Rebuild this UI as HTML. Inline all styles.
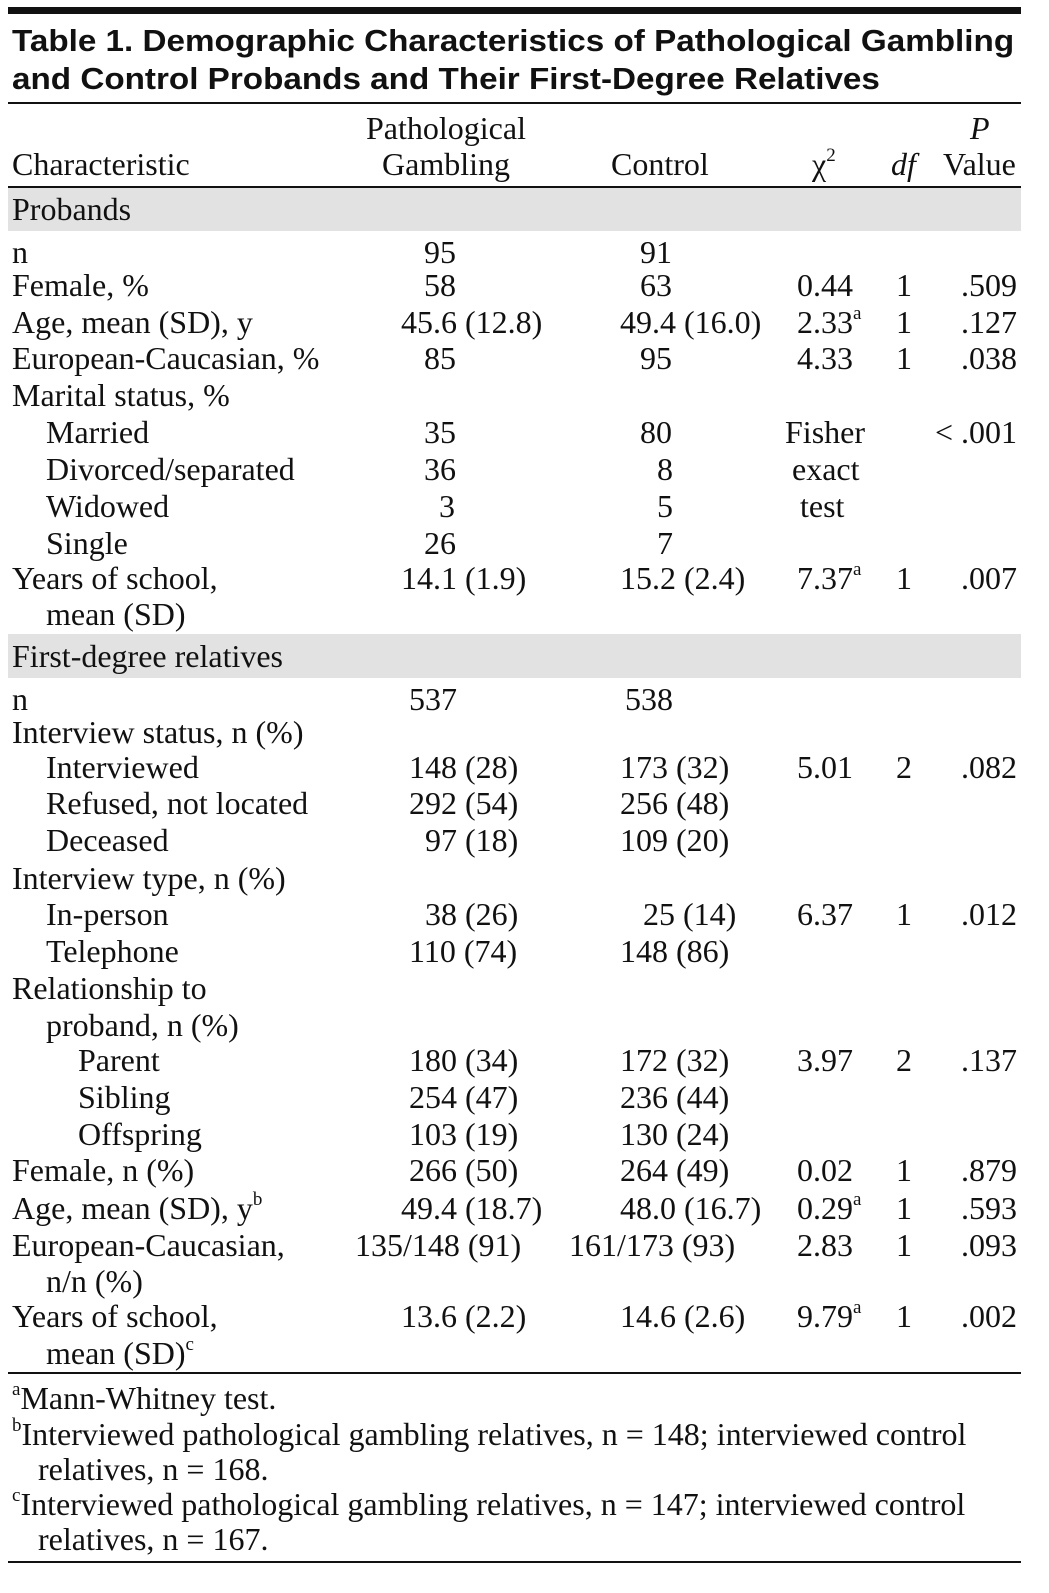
<!DOCTYPE html>
<html><head><meta charset="utf-8">
<style>
body{margin:0;background:#fff;}
#page{position:relative;width:1049px;height:1593px;overflow:hidden;background:#fff;font-family:"Liberation Serif",serif;font-size:32px;color:#111;}
.t{position:absolute;white-space:nowrap;line-height:36px;}
.r{position:absolute;background:#111;left:8px;width:1013px;}
.band{position:absolute;left:8px;width:1013px;background:#e2e2e2;}
.title{position:absolute;left:12px;font-family:"Liberation Sans",sans-serif;font-weight:bold;font-size:31px;white-space:nowrap;transform:scaleX(1.072);transform-origin:left top;}
sup{font-size:19px;line-height:0;vertical-align:14px;}
</style></head>
<body>
<div id="page">
<div class="r" style="top:7px;height:7px"></div>
<div class="title" style="top:23px">Table 1. Demographic Characteristics of Pathological Gambling</div>
<div class="title" style="top:61px">and Control Probands and Their First-Degree Relatives</div>
<div class="r" style="top:102px;height:2px"></div>
<div class="t" style="left:366px;top:110px">Pathological</div>
<div class="t" style="left:12px;top:146px">Characteristic</div>
<div class="t" style="left:382px;top:146px">Gambling</div>
<div class="t" style="left:611px;top:146px">Control</div>
<div class="t" style="left:812px;top:146px">χ<sup>2</sup></div>
<div class="t" style="left:891px;top:146px;font-style:italic">df</div>
<div class="t" style="left:970px;top:110px;font-style:italic">P</div>
<div class="t" style="left:943px;top:146px">Value</div>
<div class="r" style="top:186px;height:2px"></div>
<div class="band" style="top:188px;height:43px"></div>
<div class="t" style="left:12px;top:191px">Probands</div>
<div class="band" style="top:634px;height:44px"></div>
<div class="t" style="left:12px;top:638px">First-degree relatives</div>
<div class="r" style="top:1372px;height:2px"></div>
<div class="t" style="left:12px;top:1380px"><sup>a</sup>Mann-Whitney test.</div>
<div class="t" style="left:12px;top:1416px"><sup>b</sup>Interviewed pathological gambling relatives, n = 148; interviewed control</div>
<div class="t" style="left:38px;top:1451px">relatives, n = 168.</div>
<div class="t" style="left:12px;top:1486px"><sup>c</sup>Interviewed pathological gambling relatives, n = 147; interviewed control</div>
<div class="t" style="left:38px;top:1521px">relatives, n = 167.</div>
<div class="r" style="top:1561px;height:2px"></div>
</div>
<script>
// [centerY, label, labelLeft, pg, pgLeft, ctl, ctlLeft, chi, chiLeft, df, p]
const rows=[
[252,"n",12,"95",424,"91",640,"","","",""],
[285,"Female, %",12,"58",424,"63",640,"0.44",797,"1",".509"],
[322,"Age, mean (SD), y",12,"45.6 (12.8)",401,"49.4 (16.0)",620,"2.33<sup>a</sup>",797,"1",".127"],
[358,"European-Caucasian, %",12,"85",424,"95",640,"4.33",797,"1",".038"],
[395,"Marital status, %",12,"","","","","","","",""],
[432,"Married",46,"35",424,"80",640,"Fisher",785,"","< .001"],
[469,"Divorced/separated",46,"36",424,"8",657,"exact",792,"",""],
[506,"Widowed",46,"3",439,"5",657,"test",800,"",""],
[543,"Single",46,"26",424,"7",657,"","","",""],
[578,"Years of school,",12,"14.1 (1.9)",401,"15.2 (2.4)",620,"7.37<sup>a</sup>",797,"1",".007"],
[614,"mean (SD)",46,"","","","","","","",""],
[699,"n",12,"537",409,"538",625,"","","",""],
[732,"Interview status, n (%)",12,"","","","","","","",""],
[767,"Interviewed",46,"148 (28)",409,"173 (32)",620,"5.01",797,"2",".082"],
[803,"Refused, not located",46,"292 (54)",409,"256 (48)",620,"","","",""],
[840,"Deceased",46,"97 (18)",425,"109 (20)",620,"","","",""],
[878,"Interview type, n (%)",12,"","","","","","","",""],
[914,"In-person",46,"38 (26)",425,"25 (14)",643,"6.37",797,"1",".012"],
[951,"Telephone",46,"110 (74)",409,"148 (86)",620,"","","",""],
[988,"Relationship to",12,"","","","","","","",""],
[1025,"proband, n (%)",46,"","","","","","","",""],
[1060,"Parent",78,"180 (34)",409,"172 (32)",620,"3.97",797,"2",".137"],
[1097,"Sibling",78,"254 (47)",409,"236 (44)",620,"","","",""],
[1134,"Offspring",78,"103 (19)",409,"130 (24)",620,"","","",""],
[1170,"Female, n (%)",12,"266 (50)",409,"264 (49)",620,"0.02",797,"1",".879"],
[1208,"Age, mean (SD), y<sup>b</sup>",12,"49.4 (18.7)",401,"48.0 (16.7)",620,"0.29<sup>a</sup>",797,"1",".593"],
[1245,"European-Caucasian,",12,"135/148 (91)",355,"161/173 (93)",569,"2.83",797,"1",".093"],
[1281,"n/n (%)",46,"","","","","","","",""],
[1316,"Years of school,",12,"13.6 (2.2)",401,"14.6 (2.6)",620,"9.79<sup>a</sup>",797,"1",".002"],
[1353,"mean (SD)<sup>c</sup>",46,"","","","","","","",""]
];
const page=document.getElementById('page');
function mk(html,style){const d=document.createElement('div');d.className='t';d.innerHTML=html;d.setAttribute('style',style);page.appendChild(d);return d;}
rows.forEach((r,i)=>{
  const top=r[0]-18;
  let e=mk(r[1],`left:${r[2]}px;top:${top}px`);
  
  
  if(r[3]!==""){e=mk(r[3],`left:${r[4]}px;top:${top}px`);
  
  }
  if(r[5]!==""){e=mk(r[5],`left:${r[6]}px;top:${top}px`);
  
  }
  if(r[7]!==""){e=mk(r[7],`left:${r[8]}px;top:${top}px`);
  
  }
  if(r[9]!==""){e=mk(r[9],`left:896px;top:${top}px`);
  
  }
  if(r[10]!==""){e=mk(r[10],`right:${1049-1017}px;top:${top}px`);
  
  }
});
</script>
</body></html>
